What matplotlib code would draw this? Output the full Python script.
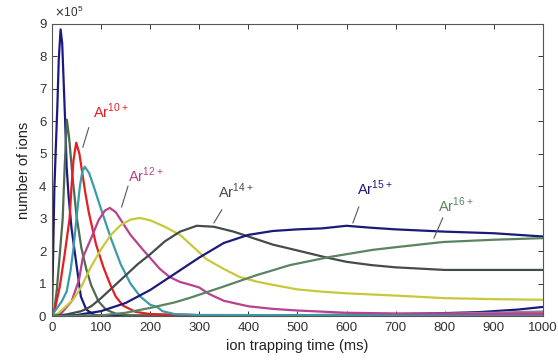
import matplotlib
matplotlib.use("Agg")
import matplotlib.pyplot as plt

plt.rcParams['font.family'] = ['Liberation Sans', 'DejaVu Sans']

# ---- data (time in ms, ions in units of 1e5) ----
t1 = [0, 2, 5, 8, 11, 14, 17.7, 21, 24, 27, 30, 34, 40, 49, 59, 70, 85, 100, 150, 1000]
n1 = [0, 1.5, 3.9, 5.2, 6.4, 7.9, 8.83, 8.4, 7.2, 6.0, 4.6, 3.7, 2.7, 1.7, 0.6, 0.2, 0.04, 0.01, 0.0, 0.0]

t2 = [0, 5, 10, 15, 22, 26, 30.5, 35, 42, 50, 60, 70, 80, 95, 110, 130, 160, 1000]
n2 = [0, 0.2, 0.8, 1.7, 3.0, 4.6, 6.05, 5.5, 4.3, 3.1, 2.1, 1.45, 0.95, 0.45, 0.2, 0.07, 0.02, 0.0]

t3 = [0, 6, 16, 26, 36, 40, 44, 49.5, 56, 62, 68, 75, 90, 105, 118, 130, 145, 170, 200, 300, 1000]
n3 = [0, 0.2, 0.9, 1.9, 3.0, 4.0, 4.8, 5.34, 5.0, 4.4, 3.8, 3.2, 2.2, 1.5, 1.0, 0.6, 0.32, 0.13, 0.06, 0.03, 0.02]

t4 = [0, 6, 20, 30, 38, 44, 50, 57, 62, 67, 76, 85, 100, 120, 140, 160, 180, 200, 215, 225, 250, 300, 1000]
n4 = [0, 0.15, 0.45, 0.75, 1.4, 2.1, 3.0, 4.0, 4.45, 4.6, 4.4, 4.0, 3.3, 2.4, 1.6, 1.0, 0.6, 0.35, 0.27, 0.15, 0.06, 0.03, 0.02]

t5 = [0, 20, 40, 55, 63, 80, 95, 108, 118, 130, 145, 160, 185, 220, 240, 261, 280, 300, 320, 350, 400, 450, 500, 600, 700, 800, 900, 1000]
n5 = [0, 0.1, 0.45, 1.1, 1.8, 2.4, 2.95, 3.25, 3.33, 3.2, 2.85, 2.5, 2.05, 1.45, 1.2, 1.05, 0.97, 0.88, 0.68, 0.47, 0.3, 0.22, 0.17, 0.1, 0.08, 0.07, 0.06, 0.06]

t6 = [0, 10, 25, 43, 60, 79, 100, 120, 140, 160, 179, 200, 230, 261, 290, 315, 350, 383, 420, 450, 500, 550, 600, 700, 800, 900, 1000]
n6 = [0, 0.05, 0.25, 0.5, 0.9, 1.5, 2.05, 2.5, 2.8, 2.97, 3.02, 2.95, 2.75, 2.5, 2.1, 1.75, 1.45, 1.2, 1.05, 0.96, 0.82, 0.75, 0.7, 0.63, 0.55, 0.52, 0.5]

t7 = [0, 30, 60, 80, 100, 125, 150, 175, 200, 230, 261, 295, 330, 370, 400, 450, 500, 560, 600, 650, 700, 800, 900, 1000]
n7 = [0, 0.05, 0.15, 0.3, 0.55, 0.9, 1.25, 1.6, 1.9, 2.3, 2.6, 2.78, 2.75, 2.6, 2.45, 2.2, 2.02, 1.8, 1.67, 1.57, 1.5, 1.42, 1.42, 1.42]

t8 = [0, 50, 100, 150, 200, 250, 300, 350, 400, 450, 500, 550, 600, 650, 700, 800, 900, 1000]
n8 = [0, 0.03, 0.15, 0.4, 0.8, 1.3, 1.8, 2.25, 2.5, 2.62, 2.67, 2.7, 2.78, 2.72, 2.67, 2.6, 2.55, 2.45]

t9 = [0, 100, 150, 200, 250, 281, 348, 417, 485, 566, 654, 700, 796, 900, 1000]
n9 = [0, 0.02, 0.1, 0.25, 0.42, 0.56, 0.9, 1.26, 1.57, 1.82, 2.04, 2.12, 2.28, 2.35, 2.4]

t10 = [0, 400, 600, 700, 800, 870, 950, 1000]
n10 = [0, 0.01, 0.04, 0.06, 0.09, 0.12, 0.2, 0.28]

t11 = [0, 300, 500, 700, 900, 1000]
n11 = [0, 0.01, 0.02, 0.05, 0.1, 0.14]

t12 = [0, 300, 500, 700, 900, 1000]
n12 = [0, 0.01, 0.02, 0.03, 0.06, 0.08]

series = [
    (t10, n10, '#1c1a78'),
    (t11, n11, '#9a7aa8'),
    (t12, n12, '#b04040'),
    (t1, n1, '#1c1a80'),
    (t2, n2, '#4d6b50'),
    (t3, n3, '#e61e24'),
    (t4, n4, '#3a9ca8'),
    (t5, n5, '#b8428e'),
    (t6, n6, '#c8c83a'),
    (t7, n7, '#444c4a'),
    (t8, n8, '#1c1a78'),
    (t9, n9, '#5a8460'),
]

labels = ['10', '12', '14', '15', '16']
label_xy = [(83, 6.0), (155, 4.05), (338, 3.55), (621, 3.65), (786, 3.1)]
leader_from = [(75, 5.8), (155, 4.0), (346, 3.27), (625, 3.36), (796, 3.02)]
leader_to = [(63, 5.2), (142, 3.36), (330, 2.87), (613, 2.87), (778, 2.4)]
label_colors = ['#e61e24', '#b8428e', '#444c4a', '#1c1a78', '#5a8460']

xticks = list(range(0, 1001, 100))
yticks = list(range(0, 10))

fig = plt.figure(figsize=(5.58, 3.62), dpi=100)
ax = fig.add_axes([0.093, 0.127, 0.880, 0.807])

for t, n, c in series:
    ax.plot(t, n, color=c, lw=1.6, solid_joinstyle='round')

for lab, (lx, ly), (fx, fy), (tx, ty), c in zip(labels, label_xy, leader_from, leader_to, label_colors):
    ax.plot([fx, tx], [fy, ty], color='#555555', lw=0.8)
    ax.text(lx, ly, r'Ar$^{\mathregular{' + lab + '+}}$', color=c, fontsize=10.5,
            ha='left', va='bottom')

ax.set_xlim(0, 1000)
ax.set_ylim(0, 9)
ax.set_xticks(xticks)
ax.set_yticks(yticks)
ax.tick_params(direction='in', top=True, right=True, length=3.5, width=0.7,
               labelsize=9.5, colors='#333333', pad=4)
for s in ax.spines.values():
    s.set_color('#555555')
    s.set_linewidth(0.8)

ax.set_xlabel('ion trapping time (ms)', fontsize=10.5, color='#222222', labelpad=4)
ax.set_ylabel('number of ions', fontsize=10.5, color='#222222', labelpad=6)
ax.text(0.005, 1.012, r'$\times\mathregular{10^5}$', transform=ax.transAxes,
        fontsize=8.5, color='#333333', ha='left', va='bottom')

fig.savefig('out.png', dpi=100)
